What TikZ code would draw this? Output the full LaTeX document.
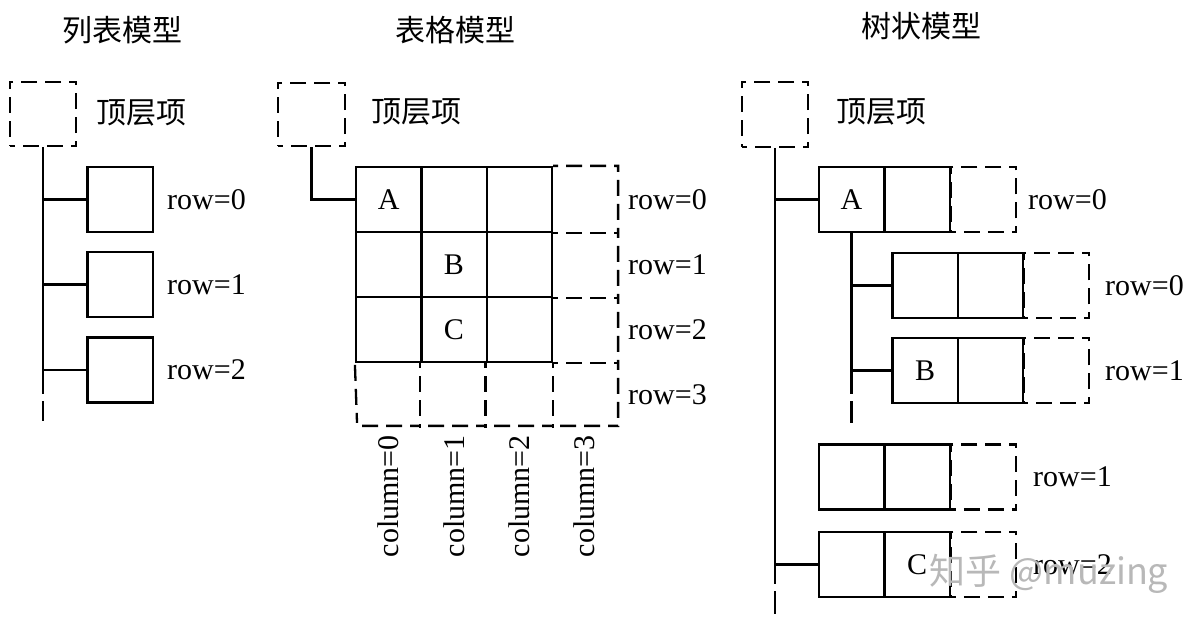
\documentclass[tikz,border=0pt]{standalone}
\usepackage{fontspec}
\setmainfont{Liberation Serif}
\newfontfamily\cjk{Noto Sans CJK SC}
\begin{document}
\begin{tikzpicture}[x=1pt,y=-1pt,
  ln/.style={line width=2.3pt},
  dsh/.style={line width=2.3pt, dash pattern=on 10pt off 8pt on 16pt off 8pt on 16pt off 8pt, dash phase=5pt},
  tail/.style={line width=2.3pt, dash pattern=on 0pt off 7pt on 40pt},
  sbox/.style={draw, line width=2.3pt, minimum width=65.3pt, minimum height=65pt, inner sep=0pt, font=\fontsize{30}{36}\selectfont},
  dbox/.style={sbox, dash pattern=on 10pt off 8pt on 16pt off 8pt on 16pt off 8pt, dash phase=5pt},
  lbl/.style={font=\fontsize{30}{36}\selectfont, inner sep=0pt, anchor=west},
  cn/.style={font=\cjk\fontsize{30}{36}\selectfont, inner sep=0pt},
]
\useasboundingbox (0,0) rectangle (1200,627);
\fill[white] (0,0) rectangle (1200,627);

% ---------- titles ----------
\node[cn] (title1) at (122,30) {列表模型};
\node[cn] (title2) at (455,30) {表格模型};
\node[cn] (title3) at (921,26) {树状模型};

% ---------- list model ----------
\node[dbox, minimum width=66pt, minimum height=64pt] (t1) at (43,114) {};
\node[cn, anchor=west] (tl1) at (96,113) {顶层项};
\node[sbox] (l0) at (120,199.5) {};
\node[sbox] (l1) at (120,284.5) {};
\node[sbox] (l2) at (120,370) {};
\path (t1.south) ++(0,247) coordinate (e1m) ++(0,27) coordinate (e1);
\draw[ln] (t1.south) -- (e1m);
\draw[tail] (e1m) -- (e1);
\foreach \i in {0,1,2} \draw[ln] (t1.south |- l\i.west) -- (l\i.west);
\node[lbl] (lr0) at (167,199.5) {row=0};
\node[lbl] (lr1) at (167,284.5) {row=1};
\node[lbl] (lr2) at (167,370) {row=2};

% ---------- table model ----------
\node[dbox, minimum width=67pt, minimum height=63pt] (t2) at (311.5,114.5) {};
\node[cn, anchor=west] (tl2) at (371,112) {顶层项};
\foreach \r in {0,1,2}
  \foreach \c in {0,1,2}
    \node[sbox] (g\r\c) at ({388.67+65.33*\c},{199.5+65*\r}) {};
\node[font=\fontsize{30}{36}\selectfont] at (g00) {A};
\node[font=\fontsize{30}{36}\selectfont] at (g11) {B};
\node[font=\fontsize{30}{36}\selectfont] at (g21) {C};
\draw[ln] (t2.south) |- (g00.west);
\draw[dsh] (g02.north east) -- ++(65,0) -- ++(0,260) -- ++(-261,0) -- (g20.south west);
\foreach \r in {0,1,2} \draw[dsh] (g\r2.south east) -- ++(65,0);
\draw[dsh] (g21.south west) -- ++(0,65);
\draw[dsh] (g22.south west) -- ++(0,65);
\draw[dsh] (g22.south east) -- ++(0,65);
\node[lbl] (mr0) at (628,199.5) {row=0};
\node[lbl] (mr1) at (628,264.5) {row=1};
\node[lbl] (mr2) at (628,329.5) {row=2};
\node[lbl] (mr3) at (628,394.5) {row=3};
\foreach \c in {0,1,2,3}
  \node[font=\fontsize{30}{36}\selectfont, inner sep=0pt, rotate=90, anchor=east] (col\c) at ({388.67+65.33*\c},435) {column=\c};

% ---------- tree model ----------
\node[dbox, minimum width=66pt, minimum height=65pt] (t3) at (775,114.5) {};
\node[cn, anchor=west] (tl3) at (836,112) {顶层项};
\path (t3.south) ++(0,436) coordinate (v3m) ++(0,30) coordinate (v3e);
\draw[ln] (t3.south) -- (v3m);
\draw[tail] (v3m) -- (v3e);

\node[sbox] (a1) at (851.5,199.5) {A};
\node[sbox] (a2) at (917,199.5) {};
\node[dbox] (a3) at (983.5,199.5) {};
\draw[ln] (t3.south |- a1.west) -- (a1.west);

\path (a1.south) ++(0,161) coordinate (v4m) ++(0,29) coordinate (v4e);
\draw[ln] (a1.south) -- (v4m);
\draw[tail] (v4m) -- (v4e);

\node[sbox] (s01) at (925,285.5) {};
\node[sbox] (s02) at (990.5,285.5) {};
\node[dbox] (s03) at (1056,285.5) {};
\node[sbox] (s11) at (925,370.5) {B};
\node[sbox] (s12) at (990.5,370.5) {};
\node[dbox] (s13) at (1056,370.5) {};
\draw[ln] (a1.south |- s01.west) -- (s01.west);
\draw[ln] (a1.south |- s11.west) -- (s11.west);

\node[sbox] (r11) at (851.5,477) {};
\node[sbox] (r12) at (917,477) {};
\node[dbox] (r13) at (983.5,477) {};
\node[sbox] (r21) at (851.5,564.5) {};
\node[sbox] (r22) at (917,564.5) {C};
\node[dbox] (r23) at (983.5,564.5) {};
\draw[ln] (t3.south |- r21.west) -- (r21.west);

\node[lbl] (tr0) at (1028,199.5) {row=0};
\node[lbl] (tr00) at (1105,285.5) {row=0};
\node[lbl] (tr01) at (1105,370.5) {row=1};
\node[lbl] (tr1) at (1033,477) {row=1};
\node[lbl] (tr2) at (1033,564.5) {row=2};

% ---------- watermark ----------
\node[font=\cjk\fontsize{36}{40}\selectfont, text=black!28, inner sep=0pt] (wm) at (1049,574) {知乎 @muzing};
\end{tikzpicture}
\end{document}
